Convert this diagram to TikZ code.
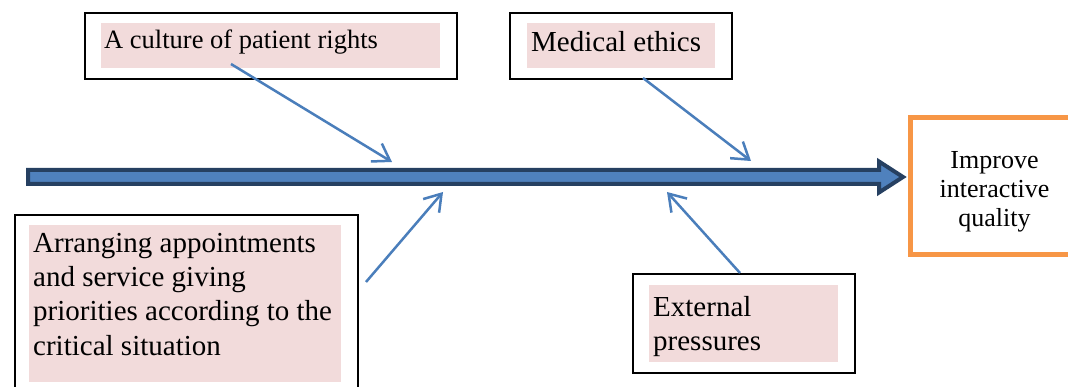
\documentclass[tikz,border=0pt]{standalone}
\usepackage{fontspec}
\setmainfont{Liberation Serif}
\newfontfamily\timesfont{Liberation Serif}
\usetikzlibrary{arrows.meta}
\definecolor{pinkfill}{RGB}{242,219,219}
\definecolor{navy}{RGB}{38,64,97}
\definecolor{spineblue}{RGB}{79,129,189}
\definecolor{arrowblue}{RGB}{74,126,187}
\definecolor{orangeline}{RGB}{247,150,70}
\tikzset{
  outerbox/.style={draw=black, line width=2pt, fill=white, rectangle, inner sep=0pt, anchor=north west},
  pinkbox/.style={fill=pinkfill, draw=none, rectangle, inner sep=0pt, anchor=north west},
  txtbig/.style={inner sep=0pt, font=\timesfont\fontsize{29}{34.2}\selectfont, align=left},
  txtmid/.style={inner sep=0pt, font=\timesfont\fontsize{26.5}{30}\selectfont, align=left},
  factorarrow/.style={draw=arrowblue, line width=2.5pt, -{Straight Barb[length=16pt,width=21pt]}},
}
\begin{document}
\begin{tikzpicture}[x=1pt,y=-1pt]
\useasboundingbox (0,0) rectangle (1068,387);
\clip (0,0) rectangle (1068,387);
\fill[white] (0,0) rectangle (1068,387);

% spine
\draw[navy, line width=4pt, fill=spineblue, line join=miter]
  (28,170) -- (879,170) -- (879,161.5) -- (903,177) -- (879,192.5) -- (879,184) -- (28,184) -- cycle;

% result box (orange, runs past the right edge)
\draw[orangeline, line width=5pt] (1090,118) -- (910.5,118) -- (910.5,255) -- (1090,255);
\node[inner sep=0pt, font=\timesfont\fontsize{26}{29.2}\selectfont, align=center, anchor=north] (result) at (994.5,151) {Improve\\interactive\\quality};

% top-left box
\node[outerbox, minimum width=372, minimum height=66] (rightsbox) at (84,12) {};
\node[pinkbox, minimum width=339, minimum height=45] (rightsfill) at (101,23) {};
\node[txtmid, anchor=base west] (rightstxt) at (104,49) {A culture of patient rights};

% medical ethics box
\node[outerbox, minimum width=222, minimum height=66] (ethicsbox) at (509,12) {};
\node[pinkbox, minimum width=188, minimum height=45] (ethicsfill) at (527,23) {};
\node[txtbig, anchor=base west] (ethicstxt) at (531,52) {Medical ethics};

% bottom-left box
\node[outerbox, minimum width=343, minimum height=200] (apptbox) at (14,214) {};
\node[pinkbox, minimum width=312, minimum height=157] (apptfill) at (29,225) {};
\node[txtbig, anchor=north west] (appttxt) at (33,233) {Arranging appointments\\and service giving\\priorities according to the\\critical situation};

% external pressures box
\node[outerbox, minimum width=222, minimum height=99] (extbox) at (632,273) {};
\node[pinkbox, minimum width=189, minimum height=77] (extfill) at (649,285) {};
\node[txtbig, anchor=north west] (exttxt) at (653,296) {External\\pressures};

% arrow end points
\coordinate (c1s) at (231,64);  \coordinate (c1e) at (392,162);
\coordinate (c2s) at (643,78);  \coordinate (c2e) at (751,161);
\coordinate (c3s) at (366,282); \coordinate (c3e) at (443,192);
\coordinate (c4s) at (740,273); \coordinate (c4e) at (667,192);

\draw[factorarrow] (c1s) -- (c1e);
\draw[factorarrow] (c2s) -- (c2e);
\draw[factorarrow] (c3s) -- (c3e);
\draw[factorarrow] (c4s) -- (c4e);
\end{tikzpicture}
\end{document}
